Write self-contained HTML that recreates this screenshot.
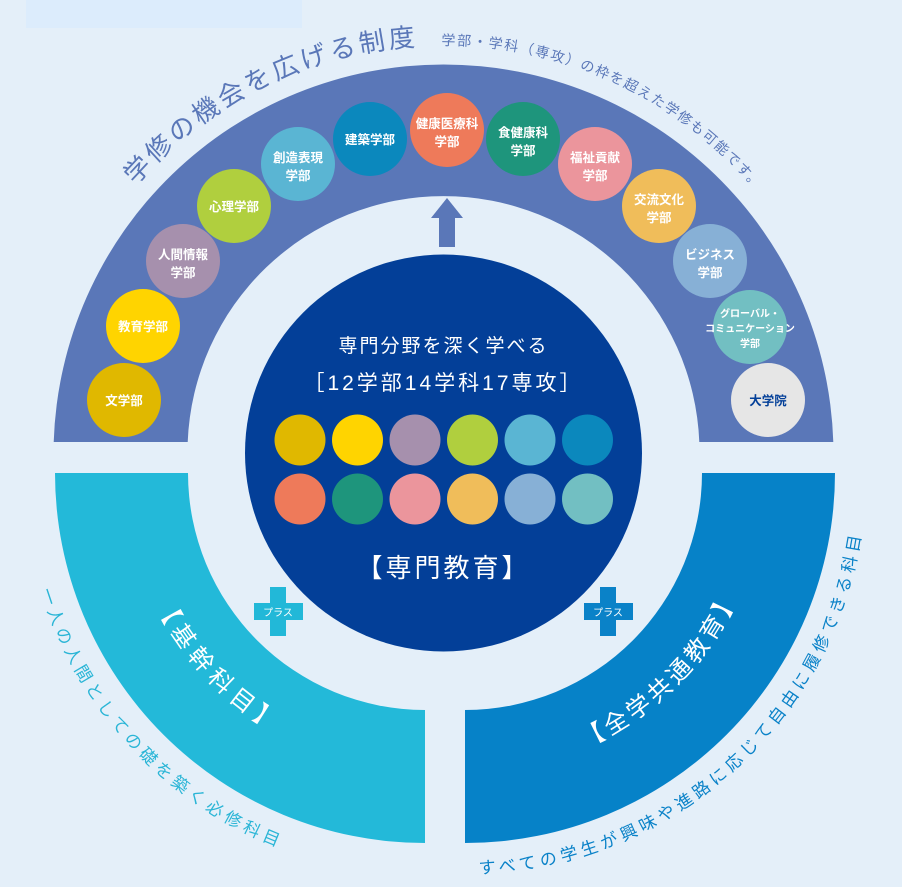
<!DOCTYPE html>
<html><head><meta charset="utf-8"><style>
html,body{margin:0;padding:0;background:#e4eff9;}
svg{display:block;font-family:"Liberation Sans","Noto Sans CJK JP",sans-serif;}
.c{fill:#fff;font-size:12.5px;font-weight:bold;text-anchor:middle;}
</style></head><body>
<svg width="902" height="887" viewBox="0 0 902 887" xmlns="http://www.w3.org/2000/svg">
<defs>
<path id="topArc" d="M90.2 249 A408 408 0 0 1 796.8 249"/>
<path id="lArc" d="M24.5 508 A402 402 0 0 0 390 873.5"/>
<path id="rArc" d="M395.4 867.9 A401 401 0 0 0 866 473"/>
<path id="lBand" d="M129.6 525.1 A300 300 0 0 0 372.9 768.4"/>
<path id="rBand" d="M517.1 768.4 A300 300 0 0 0 760.4 525.1"/>
</defs>
<rect width="902" height="887" fill="#e4eff9"/>
<rect x="26" y="0" width="276" height="28" fill="#dcecfc"/>
<path d="M53.7 442 A390 390 0 0 1 833.3 442 L699.3 442 A256 256 0 0 0 187.7 442 Z" fill="#5a77b8"/>
<path d="M55 473 L188 473 A237 237 0 0 0 425 710 L425 843 A370 370 0 0 1 55 473 Z" fill="#23b9d9"/>
<path d="M835 473 L702 473 A237 237 0 0 1 465 710 L465 843 A370 370 0 0 0 835 473 Z" fill="#0682c8"/>
<circle cx="443.5" cy="453" r="198.5" fill="#033f98"/>
<polygon points="431,218 447,198 463,218" fill="#5a77b8"/>
<rect x="439" y="217" width="16" height="30" fill="#5a77b8"/>

<g>
<circle cx="124" cy="400" r="37" fill="#e0b800"/><text class="c" x="124" y="405">文学部</text>
<circle cx="143" cy="326" r="37" fill="#ffd400"/><text class="c" x="143" y="331">教育学部</text>
<circle cx="183" cy="261" r="37" fill="#a690ad"/><text class="c" x="183" y="259">人間情報</text><text class="c" x="183" y="277">学部</text>
<circle cx="234" cy="206" r="37" fill="#b0cf3e"/><text class="c" x="234" y="211">心理学部</text>
<circle cx="298" cy="164" r="37" fill="#5ab5d3"/><text class="c" x="298" y="162">創造表現</text><text class="c" x="298" y="180">学部</text>
<circle cx="370" cy="139" r="37" fill="#0b88bd"/><text class="c" x="370" y="144">建築学部</text>
<circle cx="447" cy="130" r="37" fill="#ee7a5a"/><text class="c" x="447" y="128">健康医療科</text><text class="c" x="447" y="146">学部</text>
<circle cx="523" cy="139" r="37" fill="#1e957c"/><text class="c" x="523" y="137">食健康科</text><text class="c" x="523" y="155">学部</text>
<circle cx="595" cy="164" r="37" fill="#eb959c"/><text class="c" x="595" y="162">福祉貢献</text><text class="c" x="595" y="180">学部</text>
<circle cx="659" cy="206" r="37" fill="#f0bd5a"/><text class="c" x="659" y="204">交流文化</text><text class="c" x="659" y="222">学部</text>
<circle cx="710" cy="261" r="37" fill="#87b0d6"/><text class="c" x="710" y="259">ビジネス</text><text class="c" x="710" y="277">学部</text>
<circle cx="750" cy="327" r="37" fill="#72bfc2"/><text class="c" x="750" y="317" style="font-size:10px">グローバル・</text><text class="c" x="750" y="332" style="font-size:10px">コミュニケーション</text><text class="c" x="750" y="347" style="font-size:10px">学部</text>
<circle cx="768" cy="400" r="37" fill="#e6e6e6"/><text class="c" x="768" y="405" style="fill:#033f98">大学院</text>
</g>

<text x="443.5" y="352" fill="#fff" font-size="19" text-anchor="middle" letter-spacing="2">専門分野を深く学べる</text>
<text x="443.5" y="390" fill="#fff" font-size="21" text-anchor="middle" letter-spacing="3">［12学部14学科17専攻］</text>
<g>
<circle cx="300" cy="440" r="25.5" fill="#e0b800"/><circle cx="357.5" cy="440" r="25.5" fill="#ffd400"/><circle cx="415" cy="440" r="25.5" fill="#a690ad"/><circle cx="472.5" cy="440" r="25.5" fill="#b0cf3e"/><circle cx="530" cy="440" r="25.5" fill="#5ab5d3"/><circle cx="587.5" cy="440" r="25.5" fill="#0b88bd"/>
<circle cx="300" cy="499" r="25.5" fill="#ee7a5a"/><circle cx="357.5" cy="499" r="25.5" fill="#1e957c"/><circle cx="415" cy="499" r="25.5" fill="#eb959c"/><circle cx="472.5" cy="499" r="25.5" fill="#f0bd5a"/><circle cx="530" cy="499" r="25.5" fill="#87b0d6"/><circle cx="587.5" cy="499" r="25.5" fill="#72bfc2"/>
</g>
<text x="443.5" y="577" fill="#fff" font-size="26" text-anchor="middle" letter-spacing="3">【専門教育】</text>

<rect x="270" y="587" width="16" height="49" fill="#22b8d8"/><rect x="254" y="603" width="49" height="17" fill="#22b8d8"/>
<text x="278" y="616" fill="#fff" font-size="10" text-anchor="middle">プラス</text>
<rect x="600" y="587" width="16" height="49" fill="#0a82c8"/><rect x="584" y="603" width="49" height="17" fill="#0a82c8"/>
<text x="608" y="616" fill="#fff" font-size="10" text-anchor="middle">プラス</text>

<text fill="#5a77b8" font-size="26" letter-spacing="3.5"><textPath href="#topArc" startOffset="78">学修の機会を広げる制度</textPath></text>
<text fill="#5a77b8" font-size="14" letter-spacing="1.6"><textPath href="#topArc" startOffset="425">学部・学科（専攻）の枠を超えた学修も可能です。</textPath></text>
<text fill="#2ab5d6" font-size="17" letter-spacing="4.5"><textPath href="#lArc" startOffset="84">一人の人間としての礎を築く必修科目</textPath></text>
<text fill="#0a82c8" font-size="17" letter-spacing="4.5"><textPath href="#rArc" startOffset="84">すべての学生が興味や進路に応じて自由に履修できる科目</textPath></text>
<text fill="#fff" font-size="24" letter-spacing="6"><textPath href="#lBand" startOffset="84">【基幹科目】</textPath></text>
<text fill="#fff" font-size="24" letter-spacing="4"><textPath href="#rBand" startOffset="71">【全学共通教育】</textPath></text>
</svg>
</body></html>
